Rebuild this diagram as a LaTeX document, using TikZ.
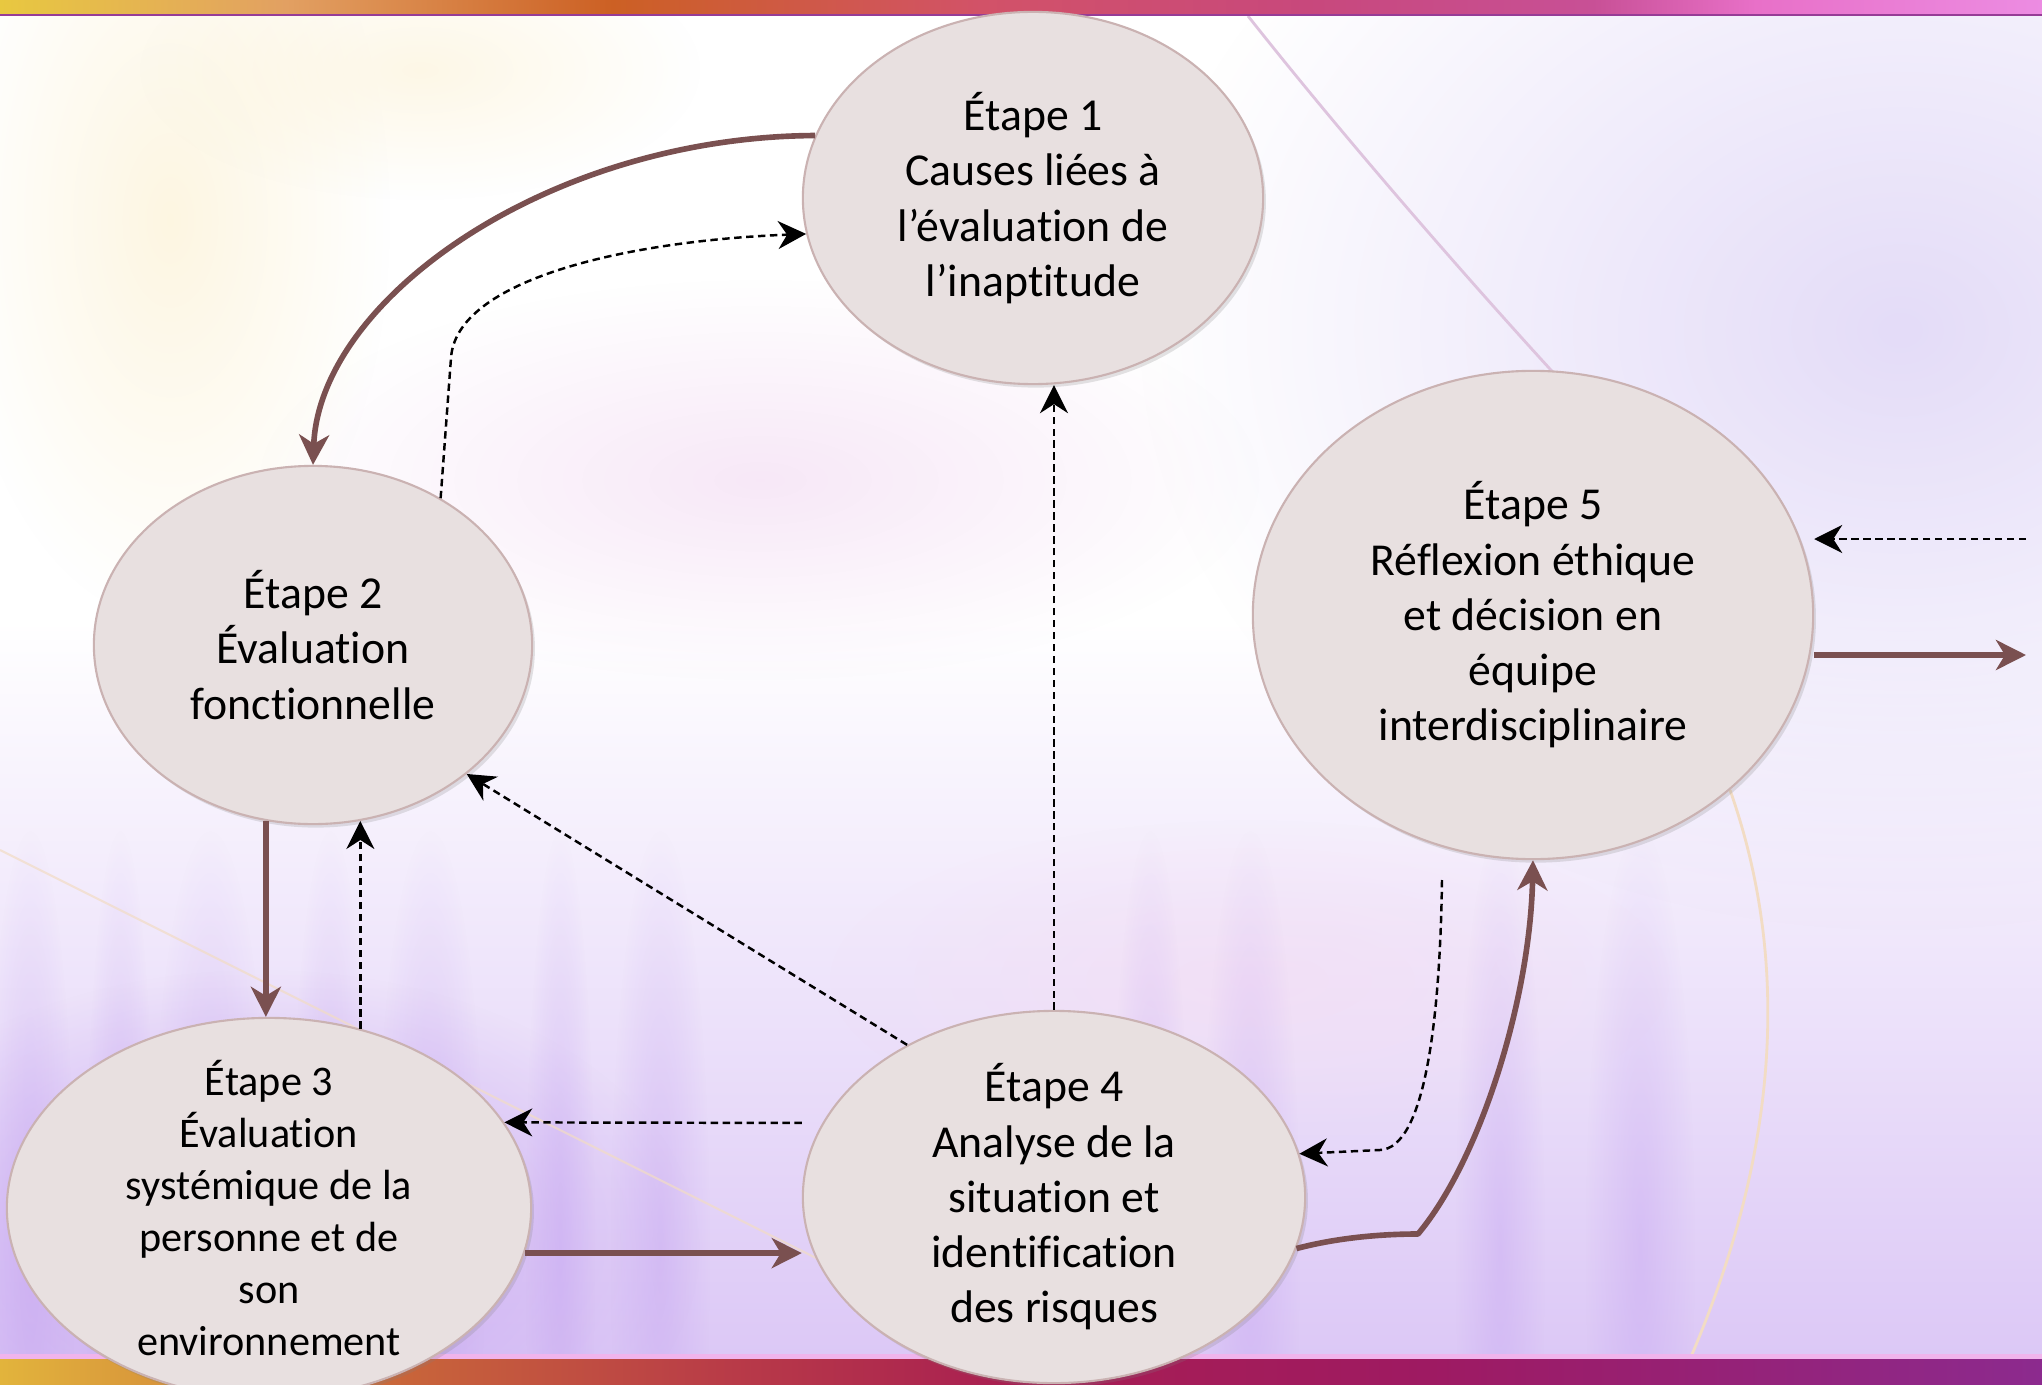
\documentclass[tikz,border=0pt]{standalone}
\usepackage{fontspec}
\setmainfont{Carlito}[Ligatures=NoCommon]
\usetikzlibrary{shapes.geometric,arrows.meta,shadows,fadings}
\definecolor{topA}{RGB}{232,200,64}
\definecolor{topB}{RGB}{226,160,98}
\definecolor{topC}{RGB}{204,96,36}
\definecolor{topD}{RGB}{210,82,104}
\definecolor{topE}{RGB}{200,72,124}
\definecolor{topF}{RGB}{200,80,150}
\definecolor{topG}{RGB}{232,112,200}
\definecolor{topH}{RGB}{236,140,226}
\definecolor{botA}{RGB}{226,180,60}
\definecolor{botB}{RGB}{200,100,58}
\definecolor{botC}{RGB}{184,58,72}
\definecolor{botD}{RGB}{168,30,82}
\definecolor{botE}{RGB}{158,26,98}
\definecolor{botF}{RGB}{140,42,142}
\pgfdeclarehorizontalshading{topbar}{100bp}{color(0bp)=(topA);color(25bp)=(topA);color(32bp)=(topB);color(40bp)=(topC);color(49bp)=(topD);color(57bp)=(topE);color(64bp)=(topF);color(68bp)=(topG);color(75bp)=(topH);color(100bp)=(topH)}
\pgfdeclarehorizontalshading{bottombar}{100bp}{color(0bp)=(botA);color(25bp)=(botA);color(35bp)=(botB);color(43bp)=(botC);color(50bp)=(botD);color(60bp)=(botE);color(75bp)=(botF);color(100bp)=(botF)}
\tikzfading[name=softblob,inner color=transparent!0,outer color=transparent!100]

\begin{document}
\begin{tikzpicture}[x=0.01cm,y=-0.01cm,
  stage/.style={ellipse,draw=stageline,fill=stagefill,line width=0.6pt,inner sep=0pt,
    drop shadow={shadow xshift=0.8pt,shadow yshift=-1pt,opacity=0.22}},
  stagetext/.style={align=center,font=\fontsize{13}{15.7}\selectfont},
  smalltext/.style={align=center,font=\fontsize{12}{14.8}\selectfont},
  solidarr/.style={draw=arrowbrown,line width=1.6pt,-{Stealth[length=0.3cm,width=0.3cm,inset=0.09cm]}},
  dasharr/.style={draw=black,line width=0.7pt,dash pattern=on 2.1pt off 1.3pt,-{Stealth[length=0.28cm,width=0.28cm,inset=0.09cm]}}]
\definecolor{stagefill}{RGB}{232,224,224}
\definecolor{stageline}{RGB}{202,178,178}
\definecolor{arrowbrown}{RGB}{122,80,80}
\definecolor{lav}{RGB}{220,200,246}
\definecolor{streak}{RGB}{196,162,240}
\definecolor{glow}{RGB}{252,240,206}
\definecolor{lavtop}{RGB}{228,220,248}
\definecolor{swoosh}{RGB}{244,222,244}
\definecolor{thinA}{RGB}{222,196,222}
\definecolor{thinB}{RGB}{242,220,196}
\definecolor{barline}{RGB}{150,60,150}
\definecolor{barpink}{RGB}{240,180,236}
\useasboundingbox (0,0) rectangle (2042,1385);
\fill[white] (0,0) rectangle (2042,1385);
\shade[top color=white,bottom color=lav] (0,620) rectangle (2042,1355);
\fill[glow,path fading=softblob,opacity=0.6] (170,220) ellipse [x radius=220,y radius=400];
\fill[glow,path fading=softblob,opacity=0.5] (420,70) ellipse [x radius=280,y radius=130];
\fill[lavtop,path fading=softblob] (1900,330) ellipse [x radius=760,y radius=600];
\fill[swoosh,path fading=softblob,opacity=0.7] (760,480) ellipse [x radius=500,y radius=200];
\fill[swoosh,path fading=softblob,opacity=0.7] (1250,980) ellipse [x radius=420,y radius=160];
\fill[streak,path fading=softblob,opacity=0.8] (260,1250) ellipse [x radius=440,y radius=280];
\foreach \x/\w in {30/45,120/35,210/60,330/40,430/55,560/35,660/50,1150/40,1250/50,1500/45,1640/55} \fill[streak,path fading=softblob,opacity=0.4] (\x,1250) ellipse [x radius=\w,y radius=420];
\draw[line width=0.8pt,color=thinA] (1248,16) .. controls (1330,120) and (1450,260) .. (1560,380);
\draw[line width=0.8pt,color=thinB] (1730,790) .. controls (1790,960) and (1780,1150) .. (1690,1359);
\draw[line width=0.6pt,color=thinB,opacity=0.7] (0,850) .. controls (300,1000) and (600,1150) .. (900,1300);
\shade[shading=topbar] (0,0) rectangle (2042,14);
\fill[barline] (0,14) rectangle (2042,16);
\fill[barpink] (0,1354) rectangle (2042,1359);
\shade[shading=bottombar] (0,1359) rectangle (2042,1385);

\node[stage,minimum width=4.6cm,minimum height=3.72cm,label={[stagetext]center:Étape 1\\Causes liées à\\l’évaluation de\\l’inaptitude}] (e1) at (1033,198) {};
\node[stage,minimum width=4.38cm,minimum height=3.58cm,label={[stagetext]center:Étape 2\\Évaluation\\fonctionnelle}] (e2) at (313,645) {};
\node[stage,minimum width=5.24cm,minimum height=3.8cm,label={[smalltext]center:Étape 3\\Évaluation\\systémique de la\\personne et de\\son\\environnement}] (e3) at (269,1208) {};
\node[stage,minimum width=5.02cm,minimum height=3.72cm,label={[stagetext]center:Étape 4\\Analyse de la\\situation et\\identification\\des risques}] (e4) at (1054,1197) {};
\node[stage,minimum width=5.6cm,minimum height=4.88cm,label={[stagetext]center:Étape 5\\Réflexion éthique\\et décision en\\équipe\\interdisciplinaire}] (e5) at (1533,615) {};

\coordinate (k4) at (1418,1234);
\coordinate (d5) at (1442,880);
\coordinate (in5) at (2026,539);
\coordinate (out5) at (2026,655);

\draw[solidarr] (e1.164) .. controls (547,137) and (319,300) .. (e2.north);
\draw[dasharr] (e2.49) -- (451,358) .. controls (456,280) and (625,241) .. (e1.189);
\draw[solidarr] (e2.255) -- (e2.255 |- e3.north);
\draw[dasharr] (e3.63) -- (e3.63 |- e2.285);
\draw[dasharr] (e4.134) -- (e2.320);
\draw[dasharr] (e4.north) -- (e4.north |- e1.south);
\draw[dasharr] ([yshift=0.74cm]e4.west) -- (e3.20);
\draw[solidarr] (e3.-10) -- (e3.-10 -| e4.west);
\draw[solidarr,line join=round] (e4.-12) .. controls (1340,1237) and (1385,1234) .. (k4) .. controls (1480,1160) and (1530,1000) .. (e5.south);
\draw[dasharr] (d5) .. controls (1440,1020) and (1425,1148) .. (1380,1150) -- (e4.10);
\draw[dasharr] (in5) -- (in5 -| e5.east);
\draw[solidarr] ([yshift=-0.4cm]e5.east) -- (out5);
\end{tikzpicture}
\end{document}
